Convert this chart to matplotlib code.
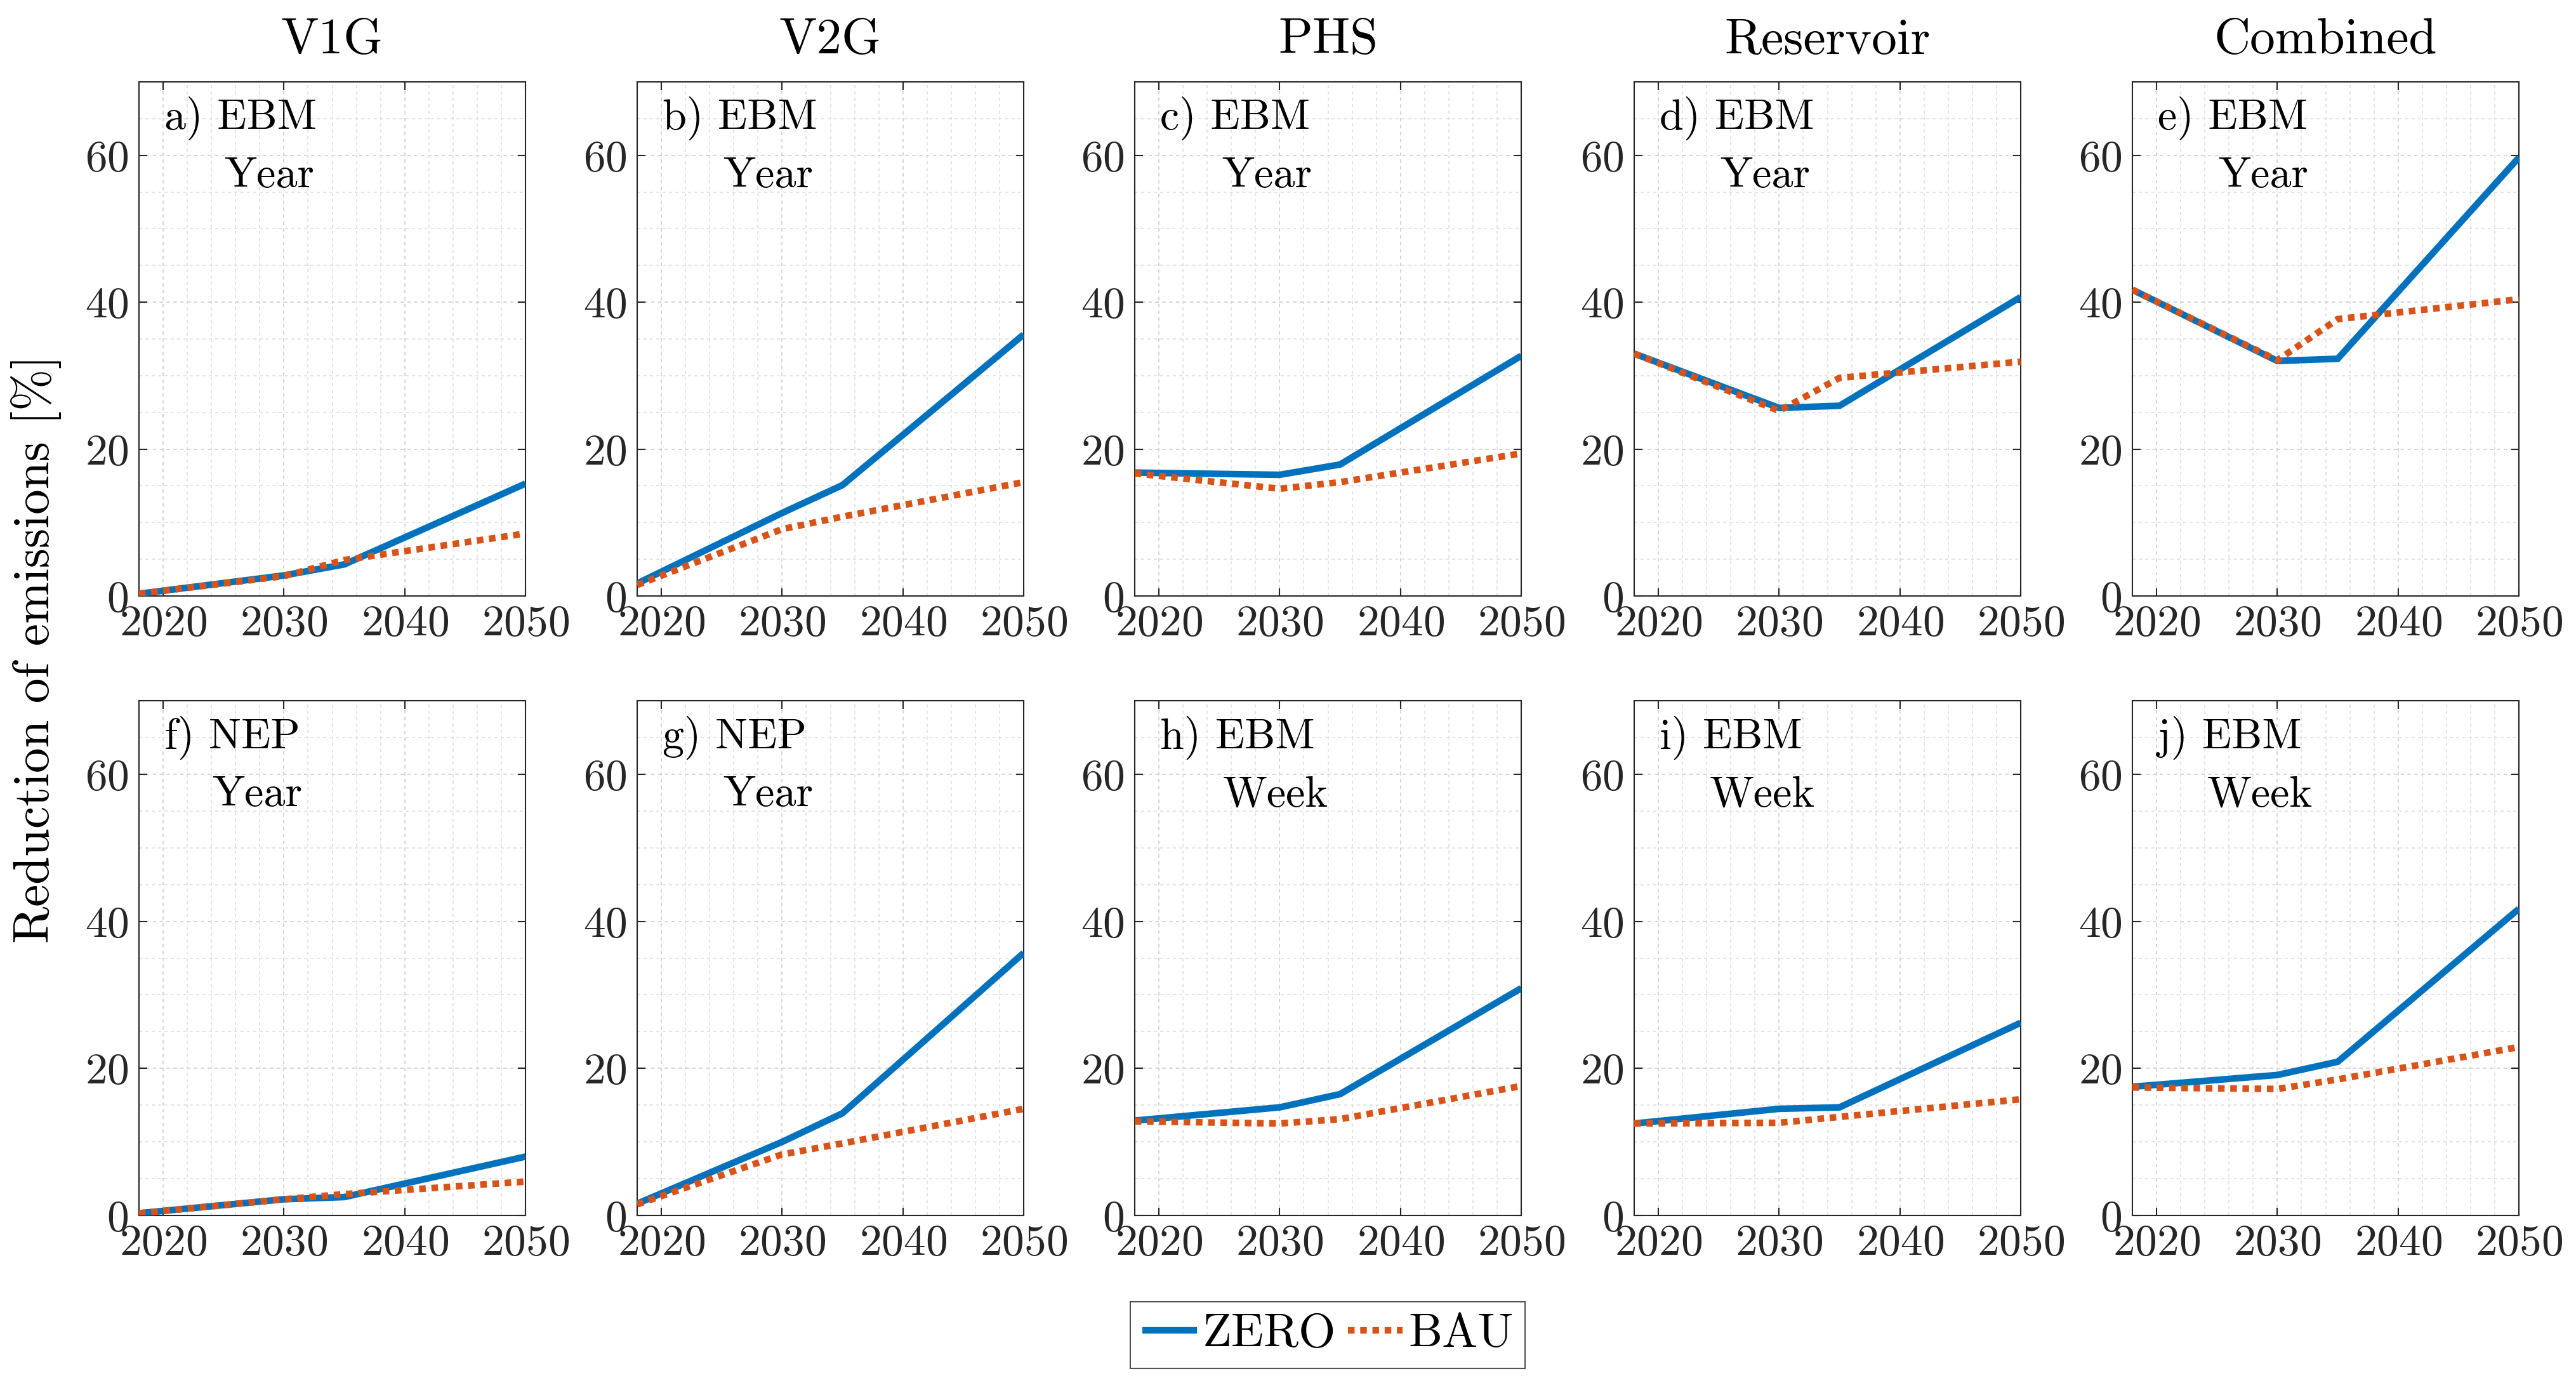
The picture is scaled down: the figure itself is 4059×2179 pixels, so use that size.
import matplotlib
matplotlib.use('Agg')
import matplotlib.pyplot as plt
from matplotlib.ticker import MultipleLocator, FixedLocator

# ---------------- data ----------------
years = [2018, 2030, 2035, 2050]
column_titles = ['V1G', 'V2G', 'PHS', 'Reservoir', 'Combined']
panel_labels = ['a) EBM', 'b) EBM', 'c) EBM', 'd) EBM', 'e) EBM',
                'f) NEP', 'g) NEP', 'h) EBM', 'i) EBM', 'j) EBM']
panel_periods = ['Year', 'Year', 'Year', 'Year', 'Year',
                 'Year', 'Year', 'Week', 'Week', 'Week']
series_names = ['ZERO', 'BAU']

zero_a = [0.3, 2.8, 4.3, 15.3]
bau_a = [0.3, 2.7, 4.9, 8.5]
zero_b = [1.7, 11.3, 15.1, 35.6]
bau_b = [1.5, 9.1, 10.8, 15.5]
zero_c = [16.8, 16.5, 17.9, 32.7]
bau_c = [16.7, 14.6, 15.5, 19.4]
zero_d = [33.0, 25.6, 25.9, 40.7]
bau_d = [33.0, 25.2, 29.7, 31.9]
zero_e = [41.7, 32.0, 32.3, 59.7]
bau_e = [41.7, 32.1, 37.7, 40.4]
zero_f = [0.3, 2.2, 2.5, 8.0]
bau_f = [0.3, 2.2, 2.9, 4.6]
zero_g = [1.6, 10.0, 13.9, 35.7]
bau_g = [1.5, 8.3, 9.8, 14.5]
zero_h = [12.9, 14.7, 16.5, 30.9]
bau_h = [12.8, 12.5, 13.1, 17.6]
zero_i = [12.5, 14.5, 14.7, 26.2]
bau_i = [12.5, 12.6, 13.4, 15.8]
zero_j = [17.5, 19.1, 20.9, 41.7]
bau_j = [17.4, 17.2, 18.5, 22.9]

zero_all = [zero_a, zero_b, zero_c, zero_d, zero_e,
            zero_f, zero_g, zero_h, zero_i, zero_j]
bau_all = [bau_a, bau_b, bau_c, bau_d, bau_e,
           bau_f, bau_g, bau_h, bau_i, bau_j]

xticks = [2020, 2030, 2040, 2050]
yticks = [0, 20, 40, 60]

# ---------------- style ----------------
plt.rcParams['font.family'] = 'serif'
plt.rcParams['font.serif'] = ['cmr10']
plt.rcParams['mathtext.fontset'] = 'cm'
plt.rcParams['axes.formatter.use_mathtext'] = True
plt.rcParams['axes.unicode_minus'] = False

BLUE = '#0072BD'
ORANGE = '#D95319'
AXC = '#262626'

W, H = 4059, 2179
fig = plt.figure(figsize=(W / 100, H / 100), dpi=100)

lefts = [219, 1004, 1788, 2575, 3360]
ax_w = 609
rows = [(129, 939), (1104, 1915)]
line2_x = [0.22, 0.222, 0.225, 0.222, 0.222, 0.19, 0.222, 0.228, 0.195, 0.194]

axes = []
for r, (top, bot) in enumerate(rows):
    for c, lx in enumerate(lefts):
        k = r * 5 + c
        ax = fig.add_axes([lx / W, 1 - bot / H, ax_w / W, (bot - top) / H])
        axes.append(ax)
        ax.plot(years, zero_all[k], color=BLUE, lw=7.5, solid_capstyle='butt',
                solid_joinstyle='miter', label=series_names[0], zorder=3)
        ax.plot(years, bau_all[k], color=ORANGE, lw=7.5,
                linestyle=(0, (1.0, 0.85)), dash_capstyle='butt',
                label=series_names[1], zorder=4)
        ax.set_xlim(2018, 2050)
        ax.set_ylim(0, 70)
        ax.xaxis.set_major_locator(FixedLocator(xticks))
        ax.yaxis.set_major_locator(FixedLocator(yticks))
        ax.xaxis.set_minor_locator(MultipleLocator(2))
        ax.yaxis.set_minor_locator(MultipleLocator(5))
        ax.grid(which='major', color='#d2d2d2', lw=1.3,
                linestyle=(0, (3, 3)), zorder=0)
        ax.grid(which='minor', color='#e0e0e0', lw=1.2,
                linestyle=(0, (3, 3)), zorder=0)
        ax.set_axisbelow(True)
        ax.tick_params(which='major', direction='in', length=9, width=1.5,
                       top=True, right=True, labelsize=50, colors=AXC,
                       pad=12)
        ax.tick_params(axis='x', which='major', pad=10)
        ax.tick_params(which='minor', length=0)
        for sp in ax.spines.values():
            sp.set_color(AXC)
            sp.set_linewidth(1.5)
        ax.text(0.065, 0.907, panel_labels[k], transform=ax.transAxes,
                fontsize=49, ha='left', va='baseline', color='black')
        ax.text(line2_x[k], 0.795, panel_periods[k], transform=ax.transAxes,
                fontsize=49, ha='left', va='baseline', color='black')
        if r == 0:
            ax.text(0.5, 1.055, column_titles[c], transform=ax.transAxes,
                    fontsize=57, ha='center', va='baseline', color='black')

fig.text(57 / W, 1 - 1022 / H, 'Reduction of emissions [%]', rotation=90,
         fontsize=57, ha='center', va='center', color='black')

handles, labs = axes[0].get_legend_handles_labels()
leg = fig.legend(handles, labs, loc='center', bbox_to_anchor=(2092 / W, 1 - 2103 / H),
                 ncol=2, fontsize=54, frameon=True, fancybox=False,
                 handlelength=1.15, handletextpad=0.12, columnspacing=0.25,
                 borderpad=0.25, borderaxespad=0)
leg.get_frame().set_edgecolor(AXC)
leg.get_frame().set_linewidth(1.5)

fig.savefig('out.png', dpi=100, facecolor='white')
